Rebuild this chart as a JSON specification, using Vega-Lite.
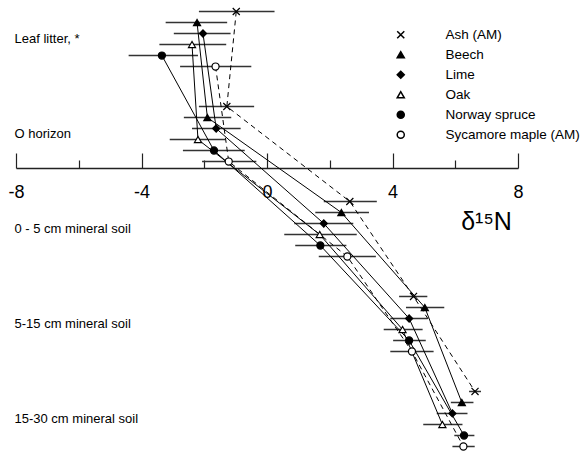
{
  "$schema": "https://vega.github.io/schema/vega-lite/v6.json",
  "width": 502,
  "height": 446,
  "padding": {"left": 7, "top": 5, "right": 0, "bottom": 0},
  "config": {"view": {"stroke": null}, "font": "Liberation Sans"},
  "resolve": {"axis": {"x": "independent"}},
  "data": {"values": [
    {"layer": "Leaf litter, *", "species": "Ash (AM)", "mean": -0.98, "lo": -2.17, "hi": 0.24},
    {"layer": "Leaf litter, *", "species": "Beech", "mean": -2.23, "lo": -3.23, "hi": -1.27},
    {"layer": "Leaf litter, *", "species": "Lime", "mean": -2.04, "lo": -2.97, "hi": -1.16},
    {"layer": "Leaf litter, *", "species": "Oak", "mean": -2.39, "lo": -3.43, "hi": -1.30},
    {"layer": "Leaf litter, *", "species": "Norway spruce", "mean": -3.35, "lo": -4.41, "hi": -2.20},
    {"layer": "Leaf litter, *", "species": "Sycamore maple (AM)", "mean": -1.64, "lo": -2.77, "hi": -0.50},
    {"layer": "O horizon", "species": "Ash (AM)", "mean": -1.28, "lo": -2.17, "hi": -0.41},
    {"layer": "O horizon", "species": "Beech", "mean": -1.90, "lo": -2.65, "hi": -1.14},
    {"layer": "O horizon", "species": "Lime", "mean": -1.62, "lo": -2.39, "hi": -0.84},
    {"layer": "O horizon", "species": "Oak", "mean": -2.20, "lo": -3.10, "hi": -1.33},
    {"layer": "O horizon", "species": "Norway spruce", "mean": -1.69, "lo": -2.68, "hi": -0.71},
    {"layer": "O horizon", "species": "Sycamore maple (AM)", "mean": -1.22, "lo": -2.07, "hi": -0.34},
    {"layer": "0 - 5 cm mineral soil", "species": "Ash (AM)", "mean": 2.64, "lo": 1.81, "hi": 3.50},
    {"layer": "0 - 5 cm mineral soil", "species": "Beech", "mean": 2.37, "lo": 1.54, "hi": 3.25},
    {"layer": "0 - 5 cm mineral soil", "species": "Lime", "mean": 1.81, "lo": 0.87, "hi": 2.75},
    {"layer": "0 - 5 cm mineral soil", "species": "Oak", "mean": 1.68, "lo": 0.55, "hi": 2.86},
    {"layer": "0 - 5 cm mineral soil", "species": "Norway spruce", "mean": 1.70, "lo": 0.90, "hi": 2.53},
    {"layer": "0 - 5 cm mineral soil", "species": "Sycamore maple (AM)", "mean": 2.56, "lo": 1.65, "hi": 3.47},
    {"layer": "5-15 cm mineral soil", "species": "Ash (AM)", "mean": 4.67, "lo": 4.21, "hi": 5.11},
    {"layer": "5-15 cm mineral soil", "species": "Beech", "mean": 5.03, "lo": 4.43, "hi": 5.65},
    {"layer": "5-15 cm mineral soil", "species": "Lime", "mean": 4.53, "lo": 3.93, "hi": 5.12},
    {"layer": "5-15 cm mineral soil", "species": "Oak", "mean": 4.32, "lo": 3.72, "hi": 4.96},
    {"layer": "5-15 cm mineral soil", "species": "Norway spruce", "mean": 4.53, "lo": 4.02, "hi": 5.06},
    {"layer": "5-15 cm mineral soil", "species": "Sycamore maple (AM)", "mean": 4.62, "lo": 3.93, "hi": 5.31},
    {"layer": "15-30 cm mineral soil", "species": "Ash (AM)", "mean": 6.63, "lo": 6.44, "hi": 6.82},
    {"layer": "15-30 cm mineral soil", "species": "Beech", "mean": 6.21, "lo": 5.86, "hi": 6.58},
    {"layer": "15-30 cm mineral soil", "species": "Lime", "mean": 5.91, "lo": 5.41, "hi": 6.39},
    {"layer": "15-30 cm mineral soil", "species": "Oak", "mean": 5.59, "lo": 4.98, "hi": 6.23},
    {"layer": "15-30 cm mineral soil", "species": "Norway spruce", "mean": 6.28, "lo": 5.97, "hi": 6.61},
    {"layer": "15-30 cm mineral soil", "species": "Sycamore maple (AM)", "mean": 6.26, "lo": 5.91, "hi": 6.62}
  ]},
  "encoding": {
    "y": {
      "field": "layer", "type": "nominal",
      "sort": ["Leaf litter, *", "O horizon", "0 - 5 cm mineral soil", "5-15 cm mineral soil", "15-30 cm mineral soil"],
      "scale": {"paddingInner": 0.305, "paddingOuter": 0},
      "axis": {"title": null, "domain": false, "ticks": false, "grid": false, "labelAlign": "left", "labelPadding": 2, "labelFontSize": 13, "labelColor": "black", "labelBaseline": "middle", "labelLimit": 0}
    },
    "yOffset": {
      "field": "species", "type": "nominal",
      "sort": ["Ash (AM)", "Beech", "Lime", "Oak", "Norway spruce", "Sycamore maple (AM)"],
      "scale": {"paddingInner": 0, "paddingOuter": 0}
    }
  },
  "layer": [
    {
      "mark": {"type": "rule", "color": "#333333", "strokeWidth": 1.5},
      "encoding": {
        "x": {
          "field": "lo", "type": "quantitative",
          "scale": {"domain": [-8, 8], "nice": false, "zero": false},
          "axis": {
            "orient": "bottom", "offset": -284, "grid": false, "domain": false, "labels": false, "title": null,
            "values": [-6, -2, 2, 6], "tickSize": -8, "tickColor": "#222222", "tickWidth": 1.2
          }
        },
        "x2": {"field": "hi"}
      }
    },
    {
      "transform": [{"filter": {"field": "species", "oneOf": ["Beech", "Lime", "Oak", "Norway spruce"]}}],
      "mark": {"type": "line", "color": "black", "strokeWidth": 1},
      "encoding": {
        "x": {"field": "mean", "type": "quantitative", "axis": null},
        "detail": {"field": "species", "type": "nominal"},
        "order": {"value": null}
      }
    },
    {
      "transform": [{"filter": {"field": "species", "oneOf": ["Ash (AM)", "Sycamore maple (AM)"]}}],
      "mark": {"type": "line", "color": "black", "strokeWidth": 1, "strokeDash": [5, 4]},
      "encoding": {
        "x": {"field": "mean", "type": "quantitative", "axis": null},
        "detail": {"field": "species", "type": "nominal"},
        "order": {"value": null}
      }
    },
    {
      "mark": {"type": "point", "filled": true, "stroke": "black", "strokeWidth": 1.2, "opacity": 1, "size": 50},
      "encoding": {
        "x": {
          "field": "mean", "type": "quantitative",
          "axis": {
            "orient": "bottom", "offset": -284, "grid": false,
            "values": [-8, -4, 0, 4, 8],
            "labelExpr": "'' + datum.value",
            "tickSize": -15,
            "tickColor": "#222222", "tickWidth": 1.2,
            "domainColor": "#222222", "domainWidth": 1.5,
            "labelFontSize": 18, "labelColor": "black", "labelPadding": 30, "labelFlush": false, "labelBaseline": "top",
            "title": "δ¹⁵N", "titleFontSize": 25, "titleFontWeight": "normal", "titleColor": "black",
            "titleX": 470, "titleY": 61, "titleAlign": "center", "titleBaseline": "alphabetic"
          }
        },
        "shape": {
          "field": "species", "type": "nominal",
          "scale": {"domain": ["Ash (AM)", "Beech", "Lime", "Oak", "Norway spruce", "Sycamore maple (AM)"], "range": ["M-1,-1L1,1M-1,1L1,-1", "triangle-up", "diamond", "triangle-up", "circle", "circle"]},
          "legend": {
            "title": null, "orient": "none", "legendX": 378, "legendY": 22, "labelFontSize": 13.5, "labelColor": "black", "labelOffset": 38, "rowPadding": 5, "symbolSize": 50,
            "encode": {"symbols": {"update": {"stroke": {"value": "black"}, "strokeWidth": {"value": 1.3}}}}
          }
        },
        "fill": {
          "field": "species", "type": "nominal",
          "scale": {"domain": ["Ash (AM)", "Beech", "Lime", "Oak", "Norway spruce", "Sycamore maple (AM)"], "range": ["black", "black", "black", "white", "black", "white"]},
          "legend": {
            "title": null, "orient": "none", "legendX": 378, "legendY": 22, "labelFontSize": 13.5, "labelColor": "black", "labelOffset": 38, "rowPadding": 5, "symbolSize": 50,
            "encode": {"symbols": {"update": {"stroke": {"value": "black"}, "strokeWidth": {"value": 1.3}}}}
          }
        }
      }
    }
  ]
}
